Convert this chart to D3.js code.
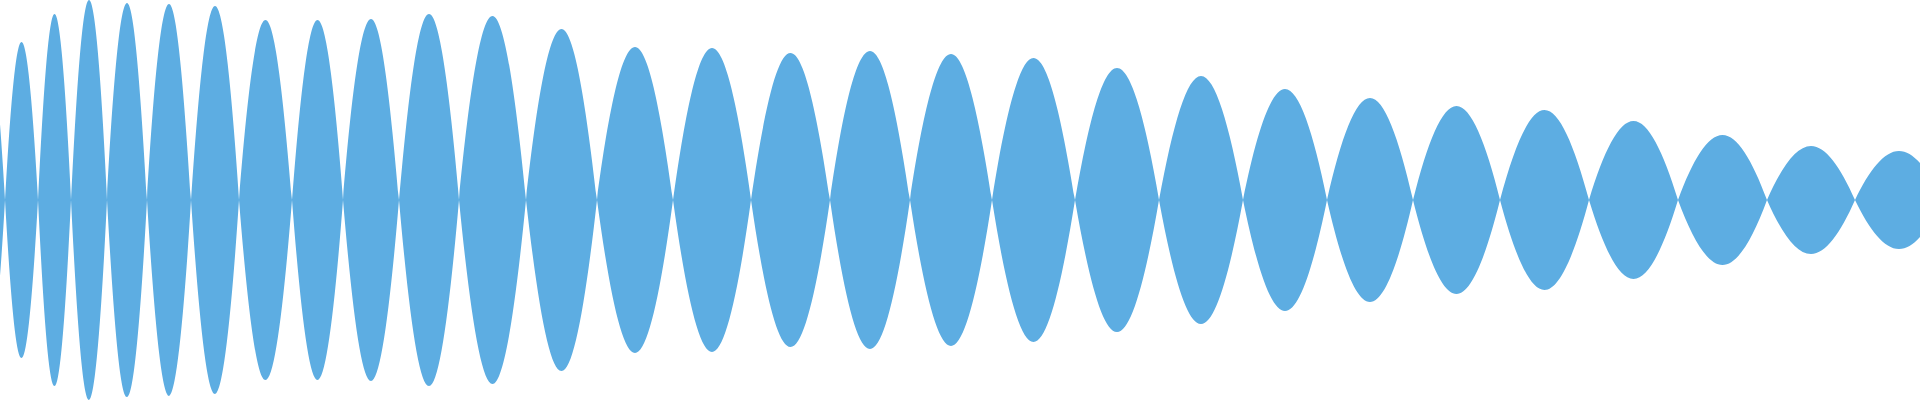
<!DOCTYPE html>
<html>
<head>
<meta charset="utf-8">
<script src="https://cdn.jsdelivr.net/npm/d3@7"></script>
<style>
	body { margin: 0; background: #ffffff; }
	.wave { fill: #5dade2; stroke: none; }
</style>
</head>
<body>
<div id="vis1"></div>
<script>
// setting constants
const FRAME_HEIGHT = 400;
const FRAME_WIDTH = 1920;
const MARGINS = {left: 0, right: 0, top: 0, bottom: 0};

// data: zero crossings (sample index) and the peak amplitude of each lobe between them
const crossings = [-26, 5, 38, 71, 107, 147, 191, 239, 292, 343, 399, 459, 526, 597, 673,
	751, 830, 910, 992, 1075, 1159, 1243, 1327, 1413, 1500, 1589, 1678, 1767, 1855, 1943];
const peaks = [0.73, 0.79, 0.93, 1.0, 0.985, 0.98, 0.97, 0.90, 0.90, 0.905, 0.93, 0.92, 0.855,
	0.765, 0.76, 0.735, 0.745, 0.73, 0.71, 0.66, 0.62, 0.555, 0.51, 0.47, 0.45, 0.395,
	0.325, 0.27, 0.245];
const X_DOMAIN = [0, 1920];
const Y_DOMAIN = [-1, 1];

// how steep a lobe leaves the zero line (1.5 ~ monotone, 2 = parabola)
const K = 1.85;

// adding frame
const FRAME =
d3.select("#vis1")
	.append("svg")
	.attr("height", FRAME_HEIGHT)
	.attr("width", FRAME_WIDTH)
	.attr("class", "frame");

// more constants
const VIS_HEIGHT = FRAME_HEIGHT - MARGINS.top - MARGINS.bottom;
const VIS_WIDTH = FRAME_WIDTH - MARGINS.left - MARGINS.right;

// scale functions
const X_SCALE = d3.scaleLinear()
					.domain(X_DOMAIN)
					.range([0, VIS_WIDTH]);

const Y_SCALE = d3.scaleLinear()
					.domain(Y_DOMAIN)
					.range([VIS_HEIGHT, 0]);

// crossing, peak, crossing, peak ... (peak sits halfway between its crossings)
const points = [];
crossings.forEach((c, i) => {
	points.push({x: c, v: 0});
	if (i < peaks.length) {
		points.push({x: (c + crossings[i + 1]) / 2, v: peaks[i]});
	}
});

// custom curve: points alternate zero / peak, flat at the peak, sharp at zero
function LobeCurve(context) { this._context = context; }
LobeCurve.prototype = {
	areaStart: function() { this._line = 0; },
	areaEnd: function() { this._line = NaN; },
	lineStart: function() { this._point = 0; },
	lineEnd: function() {
		if (this._line || (this._line !== 0 && this._point === 1)) this._context.closePath();
		this._line = 1 - this._line;
	},
	point: function(x, y) {
		x = +x; y = +y;
		if (this._point === 0) {
			this._line ? this._context.lineTo(x, y) : this._context.moveTo(x, y);
		} else {
			const dx = (x - this._x) / 3;
			const dy = K * (y - this._y) / 3;
			if (this._point % 2 === 1) {
				// zero -> peak
				this._context.bezierCurveTo(this._x + dx, this._y + dy, x - dx, y, x, y);
			} else {
				// peak -> zero
				this._context.bezierCurveTo(this._x + dx, this._y, x - dx, y - dy, x, y);
			}
		}
		this._x = x; this._y = y; this._point++;
	}
};
const curveLobe = (context) => new LobeCurve(context);

// mirrored area around zero
const AREA = d3.area()
				.x((d) => {return X_SCALE(d.x);})
				.y0((d) => {return Y_SCALE(-d.v);})
				.y1((d) => {return Y_SCALE(d.v);})
				.curve(curveLobe);

FRAME.append("clipPath")
		.attr("id", "clip")
	.append("rect")
		.attr("width", VIS_WIDTH)
		.attr("height", VIS_HEIGHT);

// adding the wave to frame
FRAME.append("g")
		.attr("transform",
			"translate(" + MARGINS.left + "," + MARGINS.top + ")")
		.attr("clip-path", "url(#clip)")
	.append("path")
		.datum(points)
		.attr("d", AREA)
		.attr("class", "wave");
</script>
</body>
</html>
